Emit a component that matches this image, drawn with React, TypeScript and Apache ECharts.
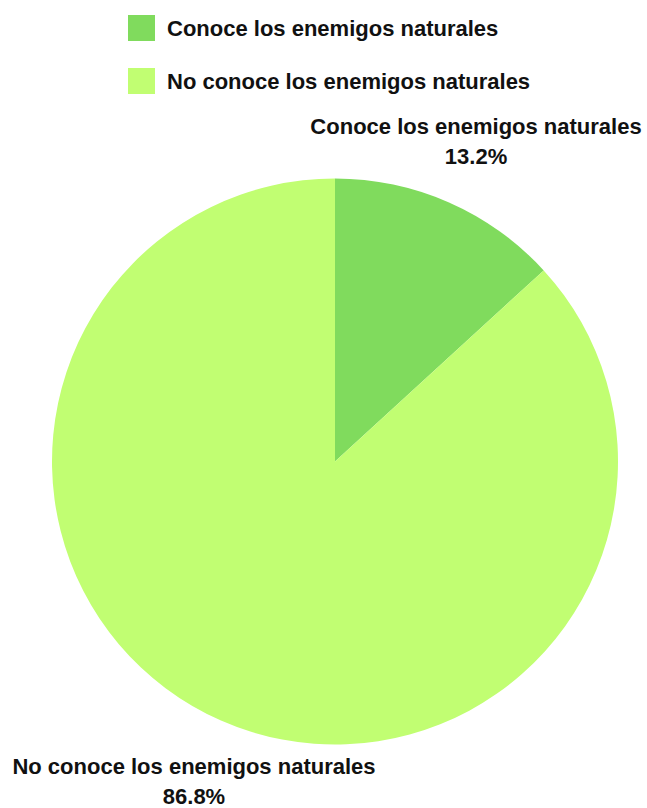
import React, { useEffect, useRef } from "react";
import * as echarts from "echarts";

const categories = ["Conoce los enemigos naturales", "No conoce los enemigos naturales"];
const values = [13.2, 86.8];
const colors = ["#80DB5D", "#C1FE72"];

const CX = 335;
const CY = 461.5;
const RADIUS = 283;
const LABEL_DIST = 350;

export default function App() {
  const ref = useRef<HTMLDivElement>(null);
  useEffect(() => {
    if (!ref.current) return;
    const chart = echarts.init(ref.current, null, { renderer: "svg" });
    const total = values.reduce((a, b) => a + b, 0);
    const mids: number[] = [];
    let acc = 0;
    values.forEach((v) => {
      mids.push(((acc + v / 2) / total) * Math.PI * 2);
      acc += v;
    });
    const font = "'Liberation Sans', Arial, sans-serif";
    chart.setOption({
      animation: false,
      textStyle: { fontFamily: font },
      legend: {
        orient: "vertical",
        left: 123,
        top: 10,
        itemWidth: 27,
        itemHeight: 26,
        itemGap: 27,
        icon: "rect",
        textStyle: { fontSize: 22, fontWeight: "bold", color: "#111", fontFamily: font, padding: [0, 0, 0, 7] },
        data: categories,
      },
      series: [
        {
          type: "pie",
          center: [CX, CY],
          radius: RADIUS,
          startAngle: 90,
          clockwise: true,
          percentPrecision: 1,
          data: categories.map((c, i) => ({ name: c, value: values[i], itemStyle: { color: colors[i] } })),
          label: {
            show: true,
            formatter: "{b}\n{d}%",
            fontSize: 22,
            fontWeight: "bold",
            color: "#111",
            lineHeight: 30,
            fontFamily: font,
            align: "center",
            overflow: "none",
          },
          labelLine: { show: false },
          labelLayout: (params: any) => {
            const a = mids[params.dataIndex];
            return {
              x: CX + LABEL_DIST * Math.sin(a),
              y: CY - LABEL_DIST * Math.cos(a),
              align: "center",
              verticalAlign: "middle",
              width: 420,
            };
          },
        },
      ],
    });
    return () => chart.dispose();
  }, []);
  return <div ref={ref} style={{ position: "absolute", left: 0, top: 0, width: 647, height: 808 }} />;
}
